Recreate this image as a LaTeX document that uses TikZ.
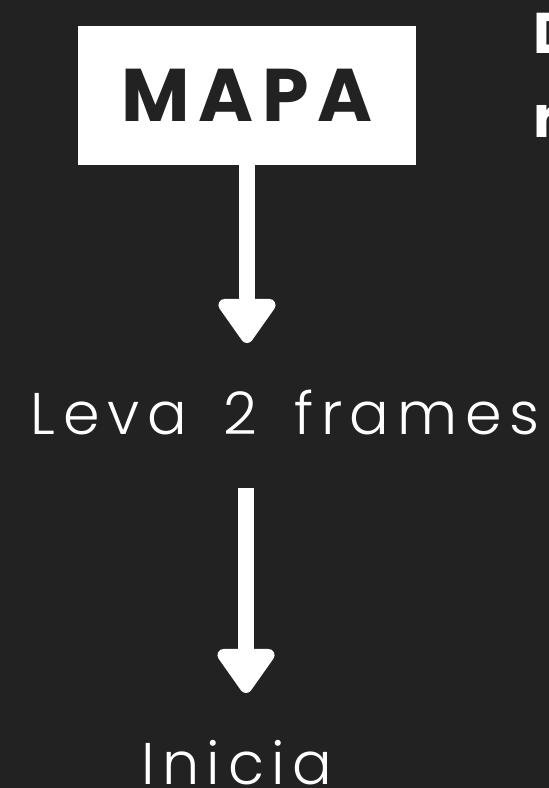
\documentclass[tikz,border=0pt]{standalone}
\usepackage{fontspec}
\usepackage{tikz}
\usetikzlibrary{arrows.meta,positioning,calc}
\newfontfamily\boldfont{Poppins}[UprightFont=* Bold,LetterSpace=12]
\newfontfamily\topfont{Poppins}[UprightFont=* Bold]
\newfontfamily\lightfont{Poppins Light}[LetterSpace=13]
\protected\def\widewords{\spaceskip=\fontdimen2\font
  \advance\spaceskip by 6.5pt\relax}
\definecolor{Back}{HTML}{222222}
\definecolor{Paper}{HTML}{FFFFFF}

\begin{document}
\begin{tikzpicture}[x=0.5pt,y=-0.5pt,
    box/.style={rectangle,fill=Paper,inner sep=0pt,outer sep=0pt,
      minimum width=169pt,minimum height=69.5pt,text=Back,
      font=\boldfont\fontsize{37.3}{40}\selectfont},
    caption/.style={inner sep=0pt,outer sep=0pt,anchor=base west,text=Paper,
      font=\lightfont\fontsize{29.4}{32}\selectfont\widewords},
    cut/.style={inner sep=0pt,anchor=base west,text=Paper,
      font=\topfont\fontsize{28.7}{32}\selectfont},
    arr/.style={-{Triangle[width=32.5pt,length=24.5pt,round]},line width=8pt,Paper}
  ]
    \fill[Back] (0,0) rectangle (549,788);
    \clip (0,0) rectangle (549,788);
    \node[box] (mapa) at (247,95.5) {MAPA};
    \node[caption] (leva) at (31,434) {Leva 2 frames};
    \node[caption] (inicia) at (141,784) {Inicia};
    \node[cut] (dtop) at (533,53) {D};
    \node[cut] (rtop) at (533,137) {r};
    \coordinate (tip1) at (246,343);
    \coordinate (top2) at (246,488);
    \coordinate (tip2) at (246,693);
    \draw[arr] (mapa.south) -- (mapa.south |- tip1);
    \draw[arr] (top2) -- (tip2);
  \end{tikzpicture}
\end{document}
